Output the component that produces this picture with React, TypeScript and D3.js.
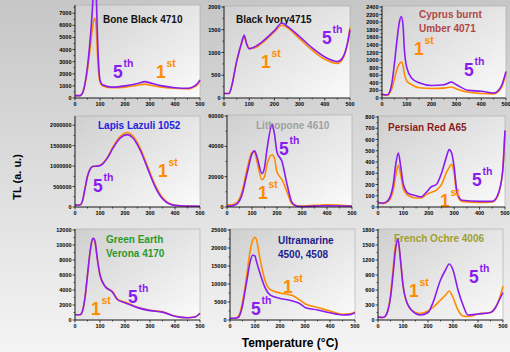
import React from 'react';
import * as d3 from 'd3';

// temperatures (°C) and TL values for the 1st and 5th readings of each pigment
const boneT = [0, 20, 30, 40, 50, 60, 70, 75, 80, 85, 90, 100, 110, 150, 200, 250, 280, 300, 350, 400, 450, 470, 490, 500];
const bone1 = [200, 200, 400, 1100, 2300, 4000, 5800, 6400, 6600, 5800, 3500, 1300, 1000, 850, 900, 1050, 1150, 1050, 900, 800, 750, 850, 1100, 1400];
const bone5 = [200, 200, 400, 1200, 2600, 4700, 7500, 9500, 10000, 8500, 5000, 1500, 1100, 900, 1000, 1200, 1350, 1250, 1000, 850, 800, 900, 1200, 1500];

const ivoryT = [0, 20, 30, 50, 70, 80, 90, 100, 120, 150, 200, 230, 250, 300, 350, 400, 450, 470, 490, 500];
const ivory1 = [100, 100, 250, 800, 1200, 1350, 1200, 1100, 1100, 1200, 1450, 1600, 1550, 1300, 1050, 850, 760, 850, 1200, 1550];
const ivory5 = [100, 100, 250, 800, 1220, 1380, 1180, 1080, 1120, 1230, 1480, 1650, 1580, 1350, 1100, 900, 800, 880, 1200, 1500];

const umberT = [0, 20, 30, 40, 50, 60, 70, 78, 85, 90, 100, 120, 150, 200, 250, 280, 300, 350, 400, 450, 480, 500];
const umber1 = [80, 70, 120, 250, 500, 750, 900, 950, 850, 650, 450, 350, 270, 250, 260, 290, 240, 150, 120, 110, 250, 650];
const umber5 = [100, 80, 150, 400, 900, 1500, 2000, 2150, 1900, 1300, 800, 520, 400, 330, 350, 420, 350, 200, 180, 130, 300, 700];

const lapisT = [0, 20, 30, 40, 50, 60, 70, 90, 110, 130, 150, 180, 210, 230, 260, 290, 320, 350, 380, 420, 500];
const lapis1 = [50000, 50000, 150000, 450000, 750000, 920000, 990000, 1000000, 1060000, 1220000, 1450000, 1720000, 1820000, 1750000, 1450000, 1000000, 550000, 230000, 80000, 30000, 20000];
const lapis5 = [50000, 50000, 150000, 450000, 750000, 920000, 990000, 1000000, 1050000, 1200000, 1420000, 1680000, 1770000, 1700000, 1400000, 950000, 500000, 200000, 70000, 30000, 20000];

const lithoT = [0, 20, 40, 60, 80, 100, 110, 120, 140, 150, 160, 180, 190, 200, 220, 240, 260, 280, 300, 400, 500];
const litho1 = [1500, 1500, 3000, 10000, 25000, 36000, 36500, 30000, 18000, 20000, 28000, 34500, 32000, 23000, 18000, 10000, 2000, 800, 600, 1500, 700];
const litho5 = [500, 800, 2000, 8000, 22000, 35000, 37000, 33000, 22000, 26000, 38000, 54000, 48000, 36000, 30000, 15000, 3000, 500, 300, 800, 500];

const persianT = [0, 20, 40, 60, 70, 80, 90, 100, 120, 150, 170, 190, 210, 230, 250, 270, 280, 290, 300, 310, 330, 400, 450, 470, 490, 500];
const persian1 = [40, 30, 50, 150, 280, 370, 280, 160, 100, 80, 80, 110, 130, 150, 200, 310, 350, 380, 300, 120, 50, 40, 45, 90, 300, 680];
const persian5 = [40, 35, 60, 200, 380, 480, 350, 200, 120, 100, 90, 130, 180, 200, 300, 450, 510, 480, 350, 150, 60, 50, 50, 100, 300, 680];

const greenT = [0, 20, 30, 40, 50, 60, 70, 75, 80, 90, 100, 120, 150, 170, 200, 250, 300, 350, 400, 450, 480, 500];
const green1 = [700, 700, 1200, 3000, 6000, 9000, 10700, 10800, 10400, 8000, 6000, 4500, 3800, 2800, 2400, 1700, 1300, 1100, 500, 300, 400, 900];
const green5 = [700, 700, 1200, 3000, 6000, 9000, 10800, 10900, 10500, 8000, 6000, 4500, 3700, 2700, 2300, 1650, 1250, 1050, 500, 300, 400, 900];

const ultraT = [0, 20, 30, 40, 50, 60, 70, 80, 90, 100, 105, 120, 140, 160, 200, 250, 280, 300, 350, 400, 450, 480, 500];
const ultra1 = [500, 500, 800, 2000, 5000, 9000, 14000, 19000, 22000, 23000, 22500, 17000, 11000, 8500, 7500, 6800, 5500, 4500, 3500, 2500, 1600, 1700, 2200];
const ultra5 = [500, 500, 600, 1500, 4000, 8000, 12000, 16000, 18000, 17800, 16500, 13000, 9000, 7000, 6000, 5300, 4500, 3500, 2800, 2000, 1400, 1500, 2000];

const ochreT = [0, 20, 30, 40, 50, 60, 70, 80, 90, 100, 120, 150, 170, 200, 220, 250, 270, 285, 300, 320, 340, 360, 400, 450, 470, 490, 500];
const ochre1 = [60, 50, 80, 200, 500, 1000, 1500, 1580, 1200, 700, 300, 150, 130, 180, 250, 400, 500, 580, 450, 200, 80, 70, 120, 150, 250, 500, 680];
const ochre5 = [60, 50, 80, 200, 450, 900, 1400, 1620, 1200, 700, 300, 130, 100, 150, 350, 800, 1000, 1120, 1000, 600, 300, 100, 120, 150, 250, 450, 550];

const xTicks = [0, 100, 200, 300, 400, 500];

const ORANGE = '#ff8c00';
const PURPLE = '#8a1cf0';
const FONT = '"Liberation Sans", Arial, sans-serif';

type Panel = {
  title: string[]; color: string; tx: number; ty: number;
  t: number[]; s1: number[]; s5: number[];
  yMax: number; yStep: number;
  x0: number; x1: number; y0: number; y1: number;
  l1: [number, number]; l5: [number, number];
};

const panels: Panel[] = [
  { title: ['Bone Black 4710'], color: '#111', tx: 103, ty: 23, t: boneT, s1: bone1, s5: bone5, yMax: 7600, yStep: 1000,
    x0: 75, x1: 200, y0: 6, y1: 98, l1: [156, 78], l5: [113, 78] },
  { title: ['Black Ivory4715'], color: '#111', tx: 236, ty: 23, t: ivoryT, s1: ivory1, s5: ivory5, yMax: 2000, yStep: 500,
    x0: 224, x1: 350, y0: 7, y1: 98, l1: [261, 68], l5: [322, 44] },
  { title: ['Cyprus burnt', 'Umber 4071'], color: '#b04848', tx: 419, ty: 18, t: umberT, s1: umber1, s5: umber5, yMax: 2400, yStep: 200,
    x0: 382, x1: 506, y0: 7, y1: 98, l1: [414, 55], l5: [464, 76] },
  { title: ['Lapis Lazuli 1052'], color: '#2222e0', tx: 98, ty: 129, t: lapisT, s1: lapis1, s5: lapis5, yMax: 2200000, yStep: 500000,
    x0: 75, x1: 200, y0: 117, y1: 207, l1: [158, 177], l5: [93, 192] },
  { title: ['Lithopone  4610'], color: '#a0a0a0', tx: 256, ty: 129, t: lithoT, s1: litho1, s5: litho5, yMax: 60000, yStep: 20000,
    x0: 227, x1: 352, y0: 116, y1: 207, l1: [258, 199], l5: [279, 155] },
  { title: ['Persian Red A65'], color: '#8b1c1c', tx: 388, ty: 131, t: persianT, s1: persian1, s5: persian5, yMax: 800, yStep: 100,
    x0: 378, x1: 505, y0: 117, y1: 207, l1: [440, 207], l5: [472, 186] },
  { title: ['Green Earth', 'Verona 4170'], color: '#2a9a2a', tx: 106, ty: 243, t: greenT, s1: green1, s5: green5, yMax: 12000, yStep: 2000,
    x0: 75, x1: 200, y0: 230, y1: 320, l1: [91, 315], l5: [128, 303] },
  { title: ['Ultramarine', '4500, 4508'], color: '#1c1c8c', tx: 278, ty: 244, t: ultraT, s1: ultra1, s5: ultra5, yMax: 25000, yStep: 5000,
    x0: 230, x1: 355, y0: 230, y1: 320, l1: [283, 293], l5: [251, 315] },
  { title: ['French Ochre 4006'], color: '#a0a030', tx: 394, ty: 242, t: ochreT, s1: ochre1, s5: ochre5, yMax: 1800, yStep: 300,
    x0: 378, x1: 503, y0: 230, y1: 320, l1: [409, 297], l5: [469, 283] },
];

const Label = ({ x, y, main, sup, color }: { x: number; y: number; main: string; sup: string; color: string }) => (
  <g fill={color} fontFamily={FONT} fontWeight="bold">
    <text x={x} y={y} fontSize={17.5}>{main}</text>
    <text x={x + 10.5} y={y - 11} fontSize={10.5}>{sup}</text>
  </g>
);

const PanelView = ({ p }: { p: Panel }) => {
  const x = d3.scaleLinear().domain([0, 500]).range([p.x0, p.x1]);
  const y = d3.scaleLinear().domain([0, p.yMax]).range([p.y1, p.y0]);
  const yTicks = d3.range(0, p.yMax + 1, p.yStep);
  const yMinor = d3.range(p.yStep / 2, p.yMax, p.yStep);
  const xMinor = d3.range(50, 500, 100);
  const line = (vals: number[]) =>
    d3.line<number>().x((_, k) => x(p.t[k])).y(v => y(v)).curve(d3.curveMonotoneX)(vals) || '';
  return (
    <g>
      <rect x={p.x0} y={p.y0 - 1} width={p.x1 - p.x0} height={p.y1 - p.y0 + 1} fill="url(#plotBg)" stroke="#a8a8a8" strokeWidth={0.6} />
      {p.title.map((s, k) => (
        <text key={k} x={p.tx} y={p.ty + k * 14} fontSize={10} fontWeight="bold" fontFamily={FONT} fill={p.color}>{s}</text>
      ))}
      <path d={line(p.s1)} fill="none" stroke={ORANGE} strokeWidth={1.6} />
      <path d={line(p.s5)} fill="none" stroke={PURPLE} strokeWidth={1.6} />
      <Label x={p.l1[0]} y={p.l1[1]} main="1" sup="st" color={ORANGE} />
      <Label x={p.l5[0]} y={p.l5[1]} main="5" sup="th" color={PURPLE} />
      <line x1={p.x0} x2={p.x1} y1={p.y1} y2={p.y1} stroke="#000" strokeWidth={0.8} />
      <line x1={p.x0} x2={p.x0} y1={p.y0 - 1} y2={p.y1} stroke="#000" strokeWidth={0.8} />
      {xTicks.map(t => (
        <g key={'x' + t}>
          <line x1={x(t)} x2={x(t)} y1={p.y1} y2={p.y1 + 2.5} stroke="#000" strokeWidth={0.7} />
          <text x={x(t)} y={p.y1 + 7.5} fontSize={5.5} fontWeight="bold" fontFamily={FONT} textAnchor="middle">{t}</text>
        </g>
      ))}
      {xMinor.map(t => (
        <line key={'xm' + t} x1={x(t)} x2={x(t)} y1={p.y1} y2={p.y1 + 1.5} stroke="#000" strokeWidth={0.6} />
      ))}
      {yTicks.map(t => (
        <g key={'y' + t}>
          <line x1={p.x0 - 2.5} x2={p.x0} y1={y(t)} y2={y(t)} stroke="#000" strokeWidth={0.7} />
          <text x={p.x0 - 3.5} y={y(t) + 2} fontSize={5.5} fontWeight="bold" fontFamily={FONT} textAnchor="end">{t}</text>
        </g>
      ))}
      {yMinor.map(t => (
        <line key={'ym' + t} x1={p.x0 - 1.5} x2={p.x0} y1={y(t)} y2={y(t)} stroke="#000" strokeWidth={0.6} />
      ))}
    </g>
  );
};

export default function App() {
  return (
    <svg width={510} height={352} style={{ position: 'absolute', left: 0, top: 0 }}>
      <defs>
        <linearGradient id="pageBg" x1="0" y1="0" x2="0" y2="1">
          <stop offset="0" stopColor="#c6c6c6" />
          <stop offset="1" stopColor="#f4f4f4" />
        </linearGradient>
        <linearGradient id="plotBg" x1="0" y1="0" x2="1" y2="1">
          <stop offset="0" stopColor="#cfcfcf" />
          <stop offset="1" stopColor="#fbfbfb" />
        </linearGradient>
      </defs>
      <rect width={510} height={352} fill="url(#pageBg)" />
      {panels.map((p, i) => <PanelView key={i} p={p} />)}
      <text transform="translate(21,177) rotate(-90)" textAnchor="middle" fontSize={11} fontWeight="bold" fontFamily={FONT}>TL (a. u.)</text>
      <text x={290} y={347} textAnchor="middle" fontSize={12} fontWeight="bold" fontFamily={FONT}>Temperature (°C)</text>
    </svg>
  );
}
